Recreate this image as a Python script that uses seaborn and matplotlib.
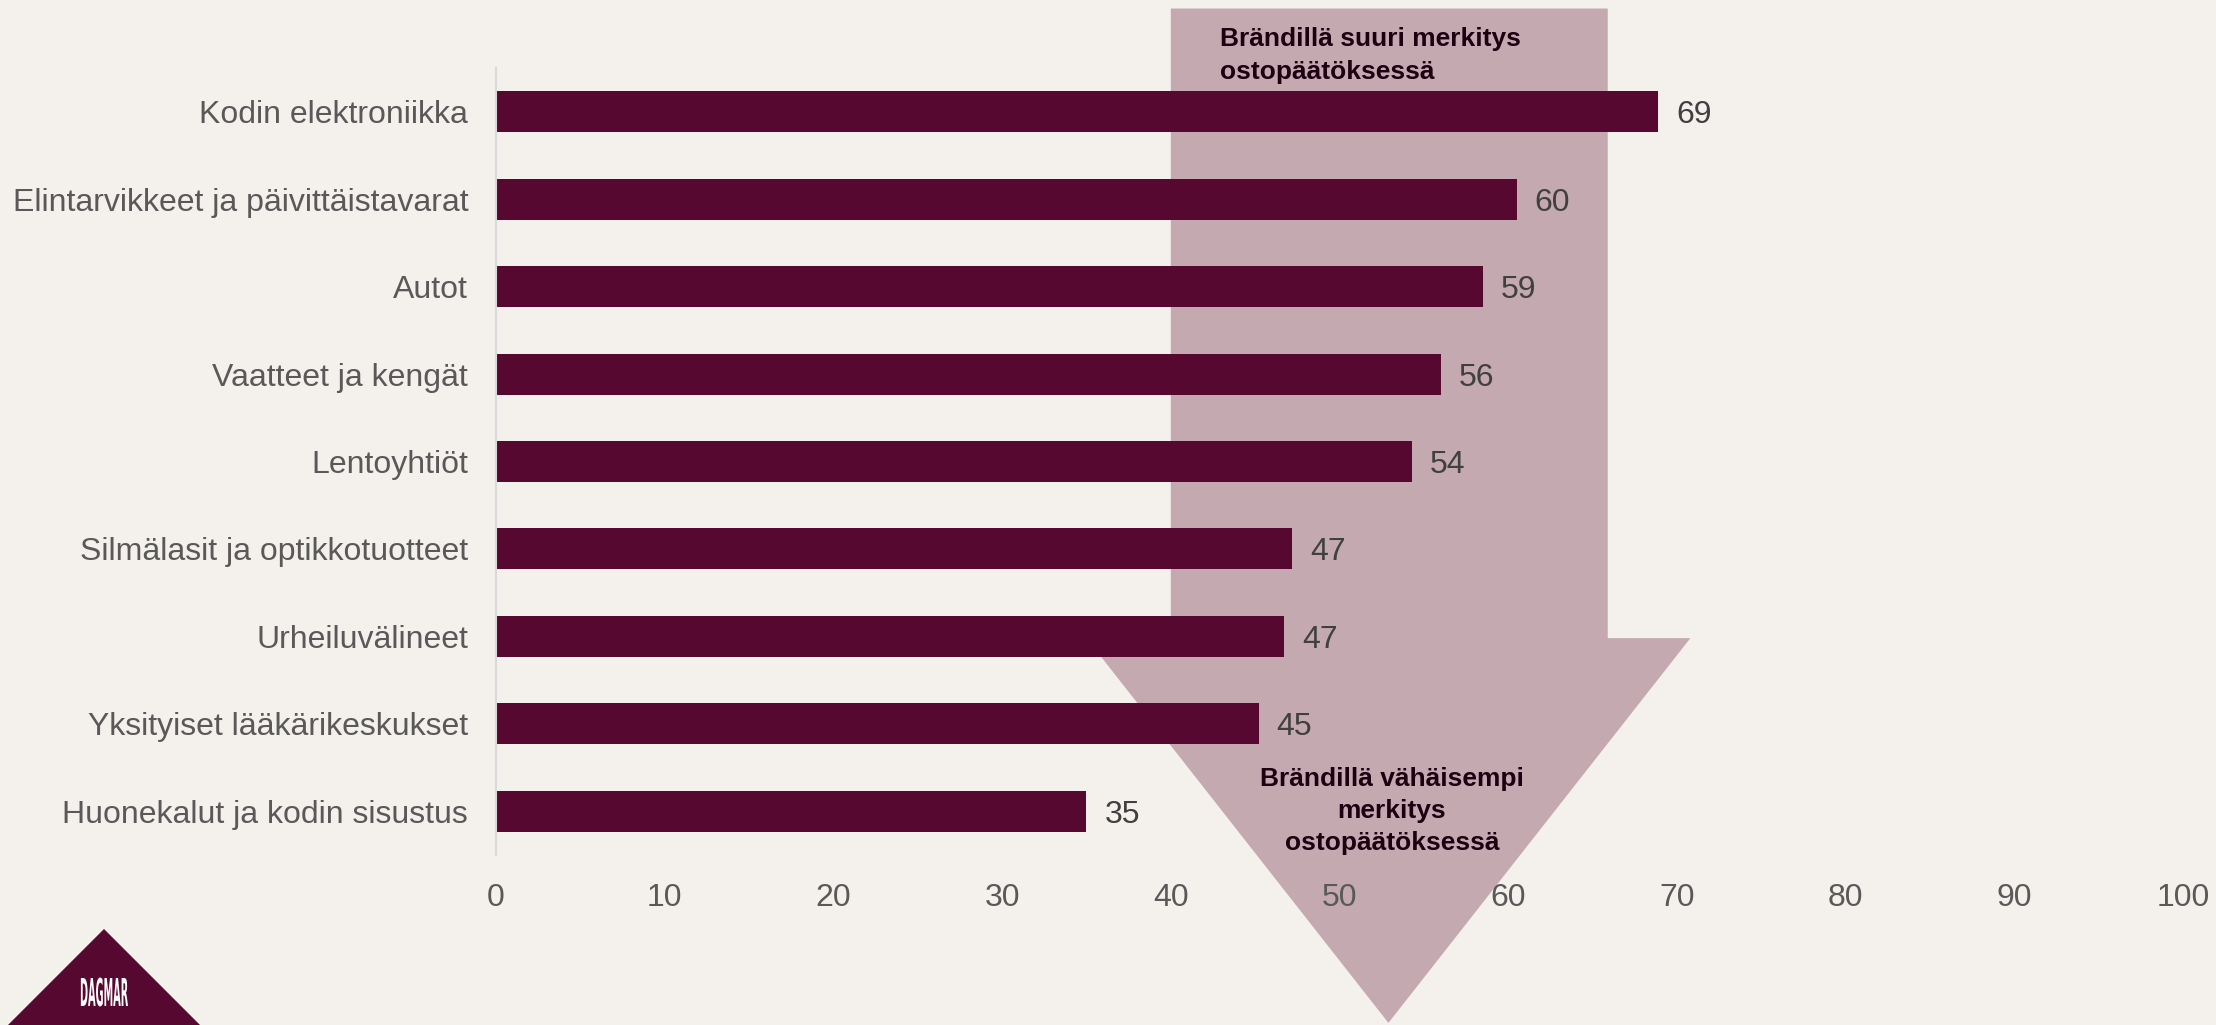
import numpy as np
import pandas as pd
import matplotlib
matplotlib.use("Agg")
import matplotlib.pyplot as plt
import seaborn as sns
from matplotlib.patches import Polygon, PathPatch
from matplotlib.textpath import TextPath
from matplotlib.font_manager import FontProperties
from matplotlib.path import Path

categories = [
    "Kodin elektroniikka",
    "Elintarvikkeet ja päivittäistavarat",
    "Autot",
    "Vaatteet ja kengät",
    "Lentoyhtiöt",
    "Silmälasit ja optikkotuotteet",
    "Urheiluvälineet",
    "Yksityiset lääkärikeskukset",
    "Huonekalut ja kodin sisustus",
]
values = [68.9, 60.5, 58.5, 56.0, 54.3, 47.2, 46.7, 45.2, 35.0]
value_labels = ["69", "60", "59", "56", "54", "47", "47", "45", "35"]
x_ticks = [0, 10, 20, 30, 40, 50, 60, 70, 80, 90, 100]
top_lines = ["Brändillä suuri merkitys", "ostopäätöksessä"]
bottom_lines = ["Brändillä vähäisempi", "merkitys", "ostopäätöksessä"]

BG = "#F4F1EC"
BAR = "#570830"
ARROW = "#C4A9B1"
TXT = "#595959"
W, H = 2216.0, 1025.0

sns.set_theme(style="white")
plt.rcParams["font.family"] = ["Liberation Sans", "DejaVu Sans"]

df = pd.DataFrame({"category": categories, "value": values})

fig = plt.figure(figsize=(W / 100, H / 100), dpi=100, facecolor=BG)
ax = fig.add_axes([496 / W, 1 - 855 / H, (2183 - 496) / W, (855 - 68) / H])
ax.set_facecolor(BG)
ax.patch.set_alpha(0)

# arrow (behind bars)
arrow_pts = [(40.0, -1.18), (65.9, -1.18), (65.9, 6.02), (70.8, 6.02),
             (52.9, 10.42), (35.0, 6.02), (40.0, 6.02)]
arrow = Polygon(arrow_pts, closed=True, facecolor=ARROW, edgecolor="none",
                clip_on=False, zorder=0)
ax.add_patch(arrow)

sns.barplot(data=df, y="category", x="value", orient="h", color=BAR,
            width=0.47, saturation=1, linewidth=0, ax=ax, zorder=2)

for c in ax.containers:
    anns = ax.bar_label(c, labels=value_labels, padding=13,
                        fontsize=23, color="#404040")
    for a in anns:
        a.set_va("center_baseline")

ax.set_xlim(0, 100)
ax.set_ylim(8.5, -0.5)
ax.set_xticks(x_ticks)
ax.set_xticklabels([str(t) for t in x_ticks])
ax.set_xlabel("")
ax.set_ylabel("")
ax.tick_params(axis="x", length=0, pad=20, labelsize=23, labelcolor=TXT)
ax.tick_params(axis="y", length=0, pad=20, labelsize=23, labelcolor=TXT)
for s in ["top", "right", "bottom"]:
    ax.spines[s].set_visible(False)
ax.spines["left"].set_color("#D9D9D9")
ax.spines["left"].set_linewidth(1.5)
ax.spines["left"].set_zorder(3)

# annotation text placed by pixel baselines
def px_to_data(px, py):
    return (px - 496) / (2183 - 496) * 100, (py - 113) / 87.5

for i, line in enumerate(top_lines):
    x, y = px_to_data(1220, 47 + 33 * i)
    ax.text(x, y, line, ha="left", va="baseline", fontsize=19,
            fontweight="bold", color="#1E0010", zorder=4, clip_on=False)
for i, line in enumerate(bottom_lines):
    x, y = px_to_data(1392, 788 + 32 * i)
    ax.text(x, y, line, ha="center", va="baseline", fontsize=19,
            fontweight="bold", color="#1E0010", zorder=4, clip_on=False)

# DAGMAR logo (figure pixel coords -> fraction)
tri = Polygon([(8 / W, 0.0), (104 / W, 1 - 929 / H), (200 / W, 0.0)],
              closed=True, transform=fig.transFigure, facecolor=BAR,
              edgecolor="none")
fig.patches.append(tri)
tp = TextPath((0, 0), "DAGMAR", size=10,
              prop=FontProperties(family="DejaVu Sans", weight="bold"))
verts = tp.vertices.copy()
x0, y0 = verts[:, 0].min(), verts[:, 1].min()
x1, y1 = verts[:, 0].max(), verts[:, 1].max()
tw, th = 48.0, 29.0
cx, cy = 104.0, 1025 - 992.0
verts[:, 0] = ((verts[:, 0] - x0) / (x1 - x0) * tw + cx - tw / 2) / W
verts[:, 1] = ((verts[:, 1] - y0) / (y1 - y0) * th + cy - th / 2) / H
logo = PathPatch(Path(verts, tp.codes), transform=fig.transFigure,
                 facecolor="white", edgecolor="none")
fig.patches.append(logo)

fig.savefig("out.png", dpi=100, facecolor=BG)
